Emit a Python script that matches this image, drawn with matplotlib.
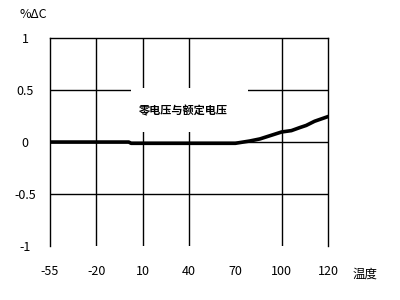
import matplotlib
matplotlib.use("Agg")
import matplotlib.pyplot as plt
from matplotlib.patches import Rectangle

plt.rcParams['font.family'] = ['Noto Sans CJK SC', 'DejaVu Sans']

# x axis categories (evenly spaced in the original chart)
temp_labels = ["-55", "-20", "10", "40", "70", "100", "120"]
y_ticks = [-1, -0.5, 0, 0.5, 1]
y_labels = ["-1", "-0.5", "0", "0.5", "1"]

# curve, x as category position
curve_x = [0, 1.7, 1.75, 4.0, 4.31, 4.53, 4.67, 5.0, 5.21, 5.39, 5.53, 5.71, 6.0]
curve_y = [0, 0, -0.012, -0.012, 0.01, 0.03, 0.05, 0.097, 0.11, 0.139, 0.16, 0.2, 0.245]

fig = plt.figure(figsize=(4, 3), dpi=100)
ax = fig.add_axes([0.125, 0.18, 0.695, 0.693])
ax.set_xlim(0, 6)
ax.set_ylim(-1, 1)

ax.spines['bottom'].set_visible(False)
for s in ['left', 'top', 'right']:
    ax.spines[s].set_linewidth(1.0)

# grid lines drawn one by one (one column missing in the original)
for xv in [1, 2, 3, 5]:
    ax.axvline(xv, color='black', lw=1.0, zorder=1)
for yv in [0.5, 0, -0.5]:
    ax.axhline(yv, color='black', lw=1.0, zorder=1)

# white box behind the label hides part of the grid
ax.add_patch(Rectangle((1.75, 0.1), 2.52, 0.42, facecolor='white',
                       edgecolor='none', zorder=2))

ax.plot(curve_x, curve_y, color='black', lw=2.6, zorder=3)

ax.text(2.87, 0.3, "零电压与额定电压", fontsize=8, fontweight='bold',
        ha='center', va='center', zorder=4)

ax.set_xticks(range(len(temp_labels)))
ax.set_xticklabels(temp_labels, fontsize=9)
ax.set_yticks(y_ticks)
ax.set_yticklabels(y_labels, fontsize=9)
ax.tick_params(axis='x', length=0, pad=14)
ax.tick_params(axis='y', length=0, pad=18)
for lab in ax.get_yticklabels():
    lab.set_ha('center')

ax.text(6.8, -1.27, "温度", fontsize=9, ha='center', va='center', clip_on=False)
fig.text(0.05, 0.95, "%ΔC", fontsize=9, ha='left', va='center')

fig.savefig("out.png", dpi=100)
